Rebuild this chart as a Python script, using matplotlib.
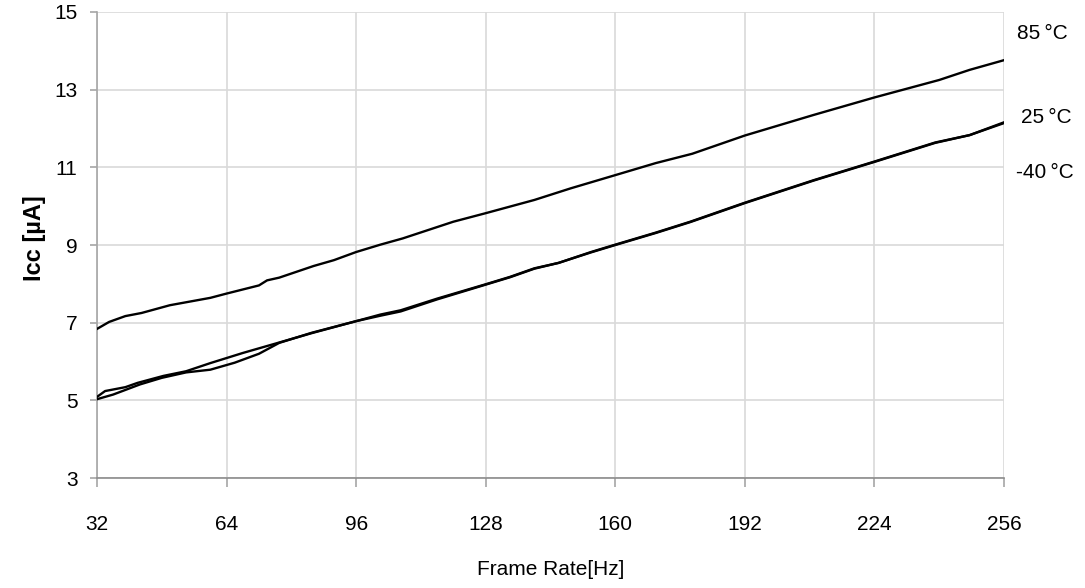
import matplotlib.pyplot as plt

# Frame rate [Hz] vs supply current [uA]
x_85 = [32, 35, 39, 43, 50, 60, 64, 72, 74, 77, 85.5, 90.5, 96, 102, 107.5, 120, 128,
        140, 149, 160, 170, 179, 192, 209, 224, 240, 247.5, 256]
icc_85 = [6.84, 7.02, 7.17, 7.25, 7.45, 7.64, 7.75, 7.96, 8.09, 8.16, 8.46, 8.61, 8.82, 9.01,
          9.17, 9.60, 9.82, 10.16, 10.46, 10.80, 11.11, 11.35, 11.82, 12.35, 12.80, 13.25, 13.51, 13.76]

x_25 = [32, 34, 39, 42, 48.4, 54, 60, 68, 76, 85, 96, 102, 107, 116, 128, 134, 140, 146,
        154, 160, 170, 178.5, 192, 209, 224, 239, 247.5, 256]
icc_25 = [5.09, 5.24, 5.34, 5.45, 5.63, 5.75, 5.96, 6.22, 6.46, 6.73, 7.04, 7.21, 7.32, 7.62,
          7.99, 8.18, 8.40, 8.54, 8.82, 9.01, 9.32, 9.60, 10.09, 10.67, 11.15, 11.64, 11.83, 12.16]

x_m40 = [32, 36, 42.6, 48, 54, 60, 66, 72, 77, 85, 96, 102, 107, 116, 128, 134, 140, 146,
         154, 160, 170, 178.5, 192, 209, 224, 239, 247.5, 256]
icc_m40 = [5.03, 5.15, 5.41, 5.58, 5.72, 5.79, 5.97, 6.20, 6.48, 6.74, 7.04, 7.18, 7.29, 7.60,
           7.98, 8.17, 8.39, 8.54, 8.81, 9.00, 9.31, 9.59, 10.08, 10.66, 11.14, 11.63, 11.83, 12.14]

x_ticks = [32, 64, 96, 128, 160, 192, 224, 256]
y_ticks = [3, 5, 7, 9, 11, 13, 15]

labels = ['85\u2009°C', '25\u2009°C', '-40\u2009°C']
label_y = [14.45, 12.28, 10.88]
label_x = [259.3, 260.3, 259.0]

plt.rcParams['font.family'] = ['Liberation Sans', 'DejaVu Sans']

fig = plt.figure(figsize=(10.85, 5.88), dpi=100)
ax = fig.add_axes([0.0894, 0.187, 0.836, 0.7926])

for xs, ys in [(x_85, icc_85), (x_25, icc_25), (x_m40, icc_m40)]:
    ax.plot(xs, ys, color='black', linewidth=1.7, zorder=3)

ax.set_xlim(32, 256)
ax.set_ylim(3, 15)
ax.set_xticks(x_ticks)
ax.set_yticks(y_ticks)
ax.grid(True, color='#d9d9d9', linewidth=1.2, zorder=0)
ax.set_axisbelow(True)

for side in ['top', 'right']:
    ax.spines[side].set_visible(False)
ax.spines['left'].set_color('#a6a6a6')
ax.spines['bottom'].set_color('#8c8c8c')
ax.spines['left'].set_linewidth(1.2)
ax.spines['bottom'].set_linewidth(1.2)

ax.tick_params(axis='x', length=6.5, width=1.2, color='#a6a6a6', pad=20, labelsize=15)
ax.tick_params(axis='y', length=5, width=1.2, color='#a6a6a6', pad=9, labelsize=15)

ax.set_xlabel('Frame Rate[Hz]', fontsize=15, labelpad=19)
ax.set_ylabel('Iᴄᴄ [µA]', fontsize=17, fontweight='bold')
ax.yaxis.set_label_coords(-0.056, 0.515)

for lab, xv, yv in zip(labels, label_x, label_y):
    ax.text(xv, yv, lab, fontsize=15, ha='left', va='center', clip_on=False)

fig.savefig('out.png', dpi=100)
